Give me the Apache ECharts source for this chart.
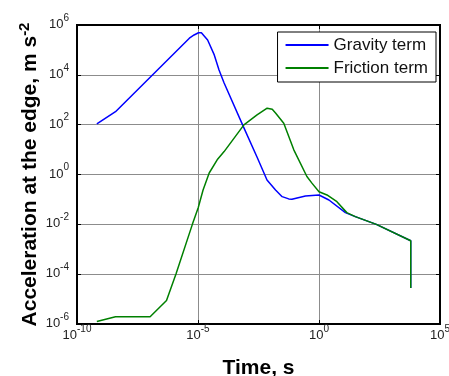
<!DOCTYPE html>
<html>
<head>
<meta charset="utf-8">
<script src="https://cdn.jsdelivr.net/npm/echarts@6/dist/echarts.min.js"></script>
<style>
  html, body { margin: 0; padding: 0; background: #fff; }
  #chart { width: 449px; height: 376px; }
</style>
</head>
<body>
<div id="chart"></div>
<script>
// time (s) and acceleration (m s^-2)
const gravityTime = [6.6e-10, 3.9e-9, 4.4e-6, 6.9e-6, 1.05e-5, 1.38e-5, 2.5e-5, 4.7e-5, 7.4e-5, 1.2e-4,
  7.9e-4, 2.8e-3, 7.1e-3, 0.016, 0.030, 0.056, 0.076, 0.275, 1.0, 2.57, 12.3, 31.6, 234, 6170, 6170];
const gravityAccel = [107, 331, 2.95e5, 3.98e5, 4.9e5, 4.9e5, 2.5e5, 6.3e4, 1.55e4, 4.7e3,
  74, 4.8, 0.60, 0.24, 0.129, 0.105, 0.102, 0.138, 0.151, 0.095, 0.0295, 0.0204, 0.0100, 2.19e-3, 2.8e-5];

const frictionTime = [6.6e-10, 3.9e-9, 1.05e-7, 5.0e-7, 1.23e-6, 5.9e-6, 1.02e-5, 1.62e-5, 2.9e-5, 6.2e-5,
  1.2e-4, 7.9e-4, 2.75e-3, 7.2e-3, 0.0117, 0.016, 0.035, 0.091, 0.316, 0.51, 1.0, 2.14, 5.5, 14.1, 31.6,
  234, 6170, 6170];
const frictionAccel = [1.26e-6, 1.95e-6, 1.95e-6, 8.7e-6, 1.02e-4, 0.0102, 0.046, 0.24, 1.15, 3.9,
  8.3, 98, 245, 457, 417, 295, 115, 9.8, 0.83, 0.45, 0.204, 0.151, 0.081, 0.0295, 0.0204,
  0.0100, 2.19e-3, 2.8e-5];

const seriesNames = ['Gravity term', 'Friction term'];
const seriesColors = ['#0000ff', '#008000'];

const chart = echarts.init(document.getElementById('chart'));

const font = 'Liberation Sans, Arial, sans-serif';

// 10^n style tick labels
const powLabel = v => '{b|10}{s|' + Math.round(Math.log10(v)) + '}';
const powRich = {
  b: { fontSize: 13, lineHeight: 13, verticalAlign: 'bottom', color: '#222', fontFamily: font },
  s: { fontSize: 10, verticalAlign: 'top', padding: [0, 0, 8, 0], color: '#222', fontFamily: font }
};

const zip = (xs, ys) => xs.map((x, i) => [x, ys[i]]);

const xBase = {
  type: 'log', logBase: 10, min: 1e-10, max: 1e5, interval: 5,
  axisLine: { show: true, lineStyle: { color: '#000', width: 2 } },
  axisTick: { show: true, inside: true, length: 4, lineStyle: { color: '#000' } },
  minorTick: { show: false }
};
const yBase = {
  type: 'log', logBase: 10, min: 1e-6, max: 1e6, interval: 2,
  axisLine: { show: true, lineStyle: { color: '#000', width: 2 } },
  axisTick: { show: true, inside: true, length: 4, lineStyle: { color: '#000' } },
  minorTick: { show: false }
};

chart.setOption({
  animation: false,
  backgroundColor: '#fff',
  textStyle: { fontFamily: font },
  grid: {
    left: 77, right: 9, top: 25, bottom: 52,
    outerBoundsMode: 'none', containLabel: false,
    show: true, borderColor: '#000', borderWidth: 2
  },
  legend: {
    data: seriesNames,
    orient: 'vertical',
    align: 'left',
    right: 13,
    top: 32,
    icon: 'rect',
    itemWidth: 43,
    itemHeight: 2,
    itemGap: 3,
    padding: [3, 8, 4, 8],
    backgroundColor: '#fff',
    borderColor: '#000',
    borderWidth: 1,
    textStyle: { fontSize: 17, lineHeight: 20, color: '#111', fontFamily: font }
  },
  xAxis: [
    Object.assign({}, xBase, {
      position: 'bottom',
      name: 'Time, s',
      nameLocation: 'middle',
      nameGap: 34,
      nameMoveOverlap: false,
      nameTextStyle: { fontSize: 21, fontWeight: 'bold', color: '#000', fontFamily: font },
      axisLabel: { formatter: powLabel, rich: powRich, margin: 0 },
      splitLine: { show: true, lineStyle: { color: '#8c8c8c', width: 1 } }
    }),
    Object.assign({}, xBase, {
      position: 'top',
      axisLabel: { show: false },
      splitLine: { show: false }
    })
  ],
  yAxis: [
    Object.assign({}, yBase, {
      position: 'left',
      name: '{n|Acceleration at the edge, m s}{s|-2}',
      nameLocation: 'middle',
      nameGap: 36,
      nameMoveOverlap: false,
      nameTextStyle: {
        rich: {
          n: { fontSize: 21, fontWeight: 'bold', color: '#000', fontFamily: font, lineHeight: 24, verticalAlign: 'bottom' },
          s: { fontSize: 15, fontWeight: 'bold', color: '#000', fontFamily: font, verticalAlign: 'top', lineHeight: 15 }
        }
      },
      axisLabel: { formatter: powLabel, rich: powRich, margin: 8, padding: [0, 0, 6, 0] },
      splitLine: { show: true, lineStyle: { color: '#8c8c8c', width: 1 } }
    }),
    Object.assign({}, yBase, {
      position: 'right',
      axisLabel: { show: false },
      splitLine: { show: false }
    })
  ],
  series: [
    {
      name: seriesNames[0],
      type: 'line',
      data: zip(gravityTime, gravityAccel),
      showSymbol: false,
      color: seriesColors[0],
      lineStyle: { width: 1.5, color: seriesColors[0] }
    },
    {
      name: seriesNames[1],
      type: 'line',
      data: zip(frictionTime, frictionAccel),
      showSymbol: false,
      color: seriesColors[1],
      lineStyle: { width: 1.5, color: seriesColors[1] }
    }
  ]
});
</script>
</body>
</html>
